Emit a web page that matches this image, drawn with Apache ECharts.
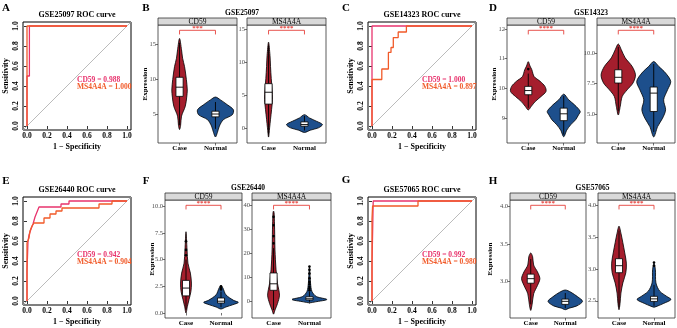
<!DOCTYPE html>
<html>
<head>
<meta charset="utf-8">
<script src="https://cdn.jsdelivr.net/npm/echarts@6/dist/echarts.min.js"></script>
<style>
  html, body { margin: 0; padding: 0; background: #fff; }
  #chart { width: 677px; height: 328px; }
</style>
</head>
<body>
<div id="chart"></div>
<script>
const groups = ["Case", "Normal"];
const genes = ["CD59", "MS4A4A"];

// ROC curves: [1 - specificity, sensitivity]
const rocA_CD59 = [[0, 0], [0, 0.5], [0.024, 0.5], [0.024, 1], [1, 1]];
const rocA_MS4A4A = [[0, 0], [0, 1], [1, 1]];
const aucA = ["0.988", "1.000"];

const rocC_CD59 = [[0, 0], [0, 1], [1, 1]];
const rocC_MS4A4A = [[0, 0], [0, 0.465], [0.098, 0.465], [0.098, 0.57], [0.164, 0.57], [0.164, 0.736],
  [0.19, 0.736], [0.19, 0.785], [0.213, 0.785], [0.213, 0.884], [0.262, 0.884], [0.262, 0.94],
  [0.344, 0.94], [0.344, 1], [1, 1]];
const aucC = ["1.000", "0.897"];

const rocE_CD59 = [[0, 0], [0, 0.3], [0.01, 0.3], [0.01, 0.6], [0.02, 0.6], [0.02, 0.66], [0.04, 0.66],
  [0.04, 0.72], [0.06, 0.72], [0.06, 0.77], [0.08, 0.77], [0.08, 0.84], [0.1, 0.84], [0.1, 0.89],
  [0.12, 0.89], [0.12, 0.94], [0.34, 0.94], [0.34, 0.97], [0.42, 0.97], [0.42, 1], [1, 1]];
const rocE_MS4A4A = [[0, 0], [0, 0.58], [0.02, 0.58], [0.02, 0.63], [0.03, 0.63], [0.03, 0.7], [0.05, 0.7],
  [0.05, 0.75], [0.07, 0.75], [0.07, 0.78], [0.17, 0.78], [0.17, 0.83], [0.23, 0.83], [0.23, 0.87],
  [0.29, 0.87], [0.29, 0.9], [0.35, 0.9], [0.35, 0.93], [0.72, 0.93], [0.72, 0.97], [0.85, 0.97],
  [0.85, 1], [1, 1]];
const aucE = ["0.942", "0.904"];

const rocG_CD59 = [[0, 0], [0, 0.36], [0.012, 0.36], [0.012, 1], [1, 1]];
const rocG_MS4A4A = [[0, 0], [0, 0.82], [0.006, 0.82], [0.006, 0.95], [0.46, 0.95], [0.46, 1], [1, 1]];
const aucG = ["0.992", "0.980"];

const rocTicks = [0, 0.2, 0.4, 0.6, 0.8, 1.0];

// violin outlines: [expression, relative half width], bottom to top
const vB_CD59_case = [[2.9, 0], [3.5, 0.06], [4.8, 0.11], [6.2, 0.32], [7.5, 0.4], [8.5, 0.43], [10, 0.38], [11.8, 0.28], [13, 0.17], [14.2, 0.11], [15.8, 0]];
const vB_CD59_normal = [[1.85, 0], [2.5, 0.11], [3.4, 0.22], [4.3, 0.44], [5.0, 0.94], [5.7, 1.0], [6.4, 0.67], [7.1, 0.28], [7.5, 0]];
const vB_MS4A4A_case = [[-1.4, 0], [0, 0.06], [1.3, 0.11], [2.8, 0.17], [4.3, 0.22], [5.8, 0.2], [7.5, 0.15], [9.3, 0.11], [11, 0.08], [13, 0]];
const vB_MS4A4A_normal = [[-0.7, 0], [-0.35, 0.33], [0, 0.78], [0.5, 1.0], [1.0, 0.67], [1.5, 0.28], [2.0, 0]];

const vD_CD59_case = [[9.28, 0], [9.4, 0.17], [9.56, 0.39], [9.73, 0.72], [9.9, 1.0], [10.07, 0.94], [10.24, 0.67], [10.4, 0.33], [10.63, 0.2], [10.75, 0.1], [10.9, 0]];
const vD_CD59_normal = [[8.38, 0], [8.6, 0.17], [8.78, 0.39], [8.95, 0.67], [9.11, 0.83], [9.23, 0.93], [9.45, 0.61], [9.62, 0.28], [9.81, 0]];
const vD_MS4A4A_case = [[4.9, 0], [5.6, 0.11], [6.42, 0.22], [6.97, 0.5], [7.53, 0.83], [8.2, 0.97], [8.9, 0.78], [9.6, 0.39], [10.27, 0.17], [10.74, 0]];
const vD_MS4A4A_normal = [[3.1, 0], [3.95, 0.22], [4.64, 0.5], [5.33, 0.67], [6.15, 0.56], [6.97, 0.78], [7.66, 0.96], [8.35, 0.67], [8.9, 0.28], [9.3, 0]];

const vF_CD59_case = [[0, 0], [0.62, 0.08], [1.24, 0.17], [2.0, 0.28], [2.8, 0.31], [3.73, 0.25], [4.66, 0.11], [5.9, 0.06], [7.6, 0]];
const vF_CD59_normal = [[0.37, 0], [0.56, 0.28], [0.77, 0.67], [0.99, 0.99], [1.18, 0.72], [1.7, 0.28], [2.33, 0.11], [2.55, 0]];
const vF_MS4A4A_case = [[-5.4, 0], [-3.7, 0.08], [-1, 0.22], [2.5, 0.33], [7.4, 0.22], [13, 0.14], [21.3, 0.08], [29.6, 0.06], [36.7, 0.03], [37.4, 0]];
const vF_MS4A4A_normal = [[-0.7, 0], [-0.3, 0.33], [0.7, 0.97], [1.9, 0.39], [4, 0.14], [7.5, 0.06], [14.4, 0]];

const vH_CD59_case = [[2.62, 0], [2.7, 0.08], [2.84, 0.17], [2.95, 0.39], [3.04, 0.53], [3.13, 0.39], [3.22, 0.17], [3.33, 0.11], [3.38, 0]];
const vH_CD59_normal = [[2.63, 0], [2.65, 0.22], [2.68, 0.67], [2.74, 1.0], [2.8, 0.72], [2.86, 0.33], [2.89, 0]];
const vH_MS4A4A_case = [[2.36, 0], [2.46, 0.06], [2.62, 0.11], [2.78, 0.22], [2.94, 0.39], [3.09, 0.42], [3.25, 0.33], [3.41, 0.22], [3.56, 0.11], [3.67, 0]];
const vH_MS4A4A_normal = [[2.4, 0], [2.42, 0.22], [2.46, 0.56], [2.52, 0.97], [2.57, 0.72], [2.65, 0.33], [2.78, 0.11], [2.99, 0.08], [3.09, 0]];

// boxplots: [lower whisker, q1, median, q3, upper whisker] for Case, Normal
const boxB_CD59 = [[3.5, 7.6, 8.9, 10.3, 15.2], [3.0, 4.7, 5.1, 5.5, 6.8]];
const boxB_MS4A4A = [[-1.0, 3.6, 5.4, 6.7, 12.5], [-0.4, 0.25, 0.5, 0.9, 1.8]];
const boxD_CD59 = [[9.35, 9.79, 9.93, 10.07, 10.5], [8.45, 8.92, 9.15, 9.34, 9.75]];
const boxD_MS4A4A = [[5.2, 7.53, 8.0, 8.62, 10.5], [3.5, 5.19, 6.7, 7.2, 9.1]];
const boxF_CD59 = [[0.3, 1.6, 2.33, 3.05, 5.0], [0.55, 0.93, 1.1, 1.4, 2.0]];
const boxF_MS4A4A = [[-3.7, 4.5, 7.2, 11.7, 22], [-0.3, 0.5, 1.0, 1.8, 4.0]];
const boxH_CD59 = [[2.7, 2.98, 3.04, 3.1, 3.3], [2.65, 2.7, 2.74, 2.77, 2.85]];
const boxH_MS4A4A = [[2.4, 2.94, 3.05, 3.16, 3.6], [2.42, 2.49, 2.53, 2.57, 2.75]];

// outlying points for Case, Normal
const outB_CD59 = [[], []];
const outB_MS4A4A = [[], []];
const outD_CD59 = [[10.65], []];
const outD_MS4A4A = [[], []];
const outF_CD59 = [[5.4, 5.9, 6.7], [2.2, 2.35, 2.5]];
const outF_MS4A4A = [[24, 27, 31.5, 35], [4.5, 5.2, 6, 7, 8, 9.5, 11.5, 13, 14.4]];
const outH_CD59 = [[], []];
const outH_MS4A4A = [[], [3.05, 3.1]];

// y tick labels of each facet
const ticksB_CD59 = [5, 10, 15];
const ticksB_MS4A4A = [0, 5, 10, 15];
const ticksD_CD59 = [9, 10, 11, 12];
const ticksD_MS4A4A = [5, 7.5, 10];
const ticksF_CD59 = [0, 2.5, 5, 7.5, 10];
const ticksF_MS4A4A = [0, 10, 20, 30, 40];
const ticksH_CD59 = [3, 3.5, 4];
const ticksH_MS4A4A = [2.5, 3, 3.5, 4];

const stars = ["***", "****", "****", "****", "****", "****", "****", "****"];

const SERIF = '"Liberation Serif", "DejaVu Serif", serif';
const CD59_COL = "#E8336D";
const MS_COL = "#F15A29";
const GROUP_COL = ["#A51E2D", "#1D4F8C"];
const SIG_COL = "#E5413B";

const rocPanels = [
  { letter: "A", lx: 6, ly: 8, title: "GSE25097 ROC curve", grid: { left: 23, top: 22, width: 108, height: 108 }, curves: [rocA_CD59, rocA_MS4A4A], auc: aucA },
  { letter: "C", lx: 346, ly: 8, title: "GSE14323 ROC curve", grid: { left: 368, top: 22, width: 108, height: 108 }, curves: [rocC_CD59, rocC_MS4A4A], auc: aucC },
  { letter: "E", lx: 6, ly: 181, title: "GSE26440 ROC curve", grid: { left: 23, top: 197, width: 108, height: 108 }, curves: [rocE_CD59, rocE_MS4A4A], auc: aucE },
  { letter: "G", lx: 346, ly: 180, title: "GSE57065 ROC curve", grid: { left: 368, top: 197, width: 108, height: 108 }, curves: [rocG_CD59, rocG_MS4A4A], auc: aucG }
];

const violinPanels = [
  { letter: "B", lx: 146, ly: 8, title: "GSE25097", yLabelX: 145,
    facets: [
      { grid: { left: 158, top: 25, width: 79, height: 118 }, range: [1.0, 17.7], ticks: ticksB_CD59, dec: 0, violins: [vB_CD59_case, vB_CD59_normal], boxes: boxB_CD59, out: outB_CD59 },
      { grid: { left: 247, top: 25, width: 79, height: 118 }, range: [-2.3, 15.6], ticks: ticksB_MS4A4A, dec: 0, violins: [vB_MS4A4A_case, vB_MS4A4A_normal], boxes: boxB_MS4A4A, out: outB_MS4A4A }
    ] },
  { letter: "D", lx: 493, ly: 8, title: "GSE14323", yLabelX: 494,
    facets: [
      { grid: { left: 507, top: 25, width: 78, height: 118 }, range: [8.17, 12.13], ticks: ticksD_CD59, dec: 0, violins: [vD_CD59_case, vD_CD59_normal], boxes: boxD_CD59, out: outD_CD59 },
      { grid: { left: 597, top: 25, width: 78, height: 118 }, range: [2.6, 12.3], ticks: ticksD_MS4A4A, dec: 1, violins: [vD_MS4A4A_case, vD_MS4A4A_normal], boxes: boxD_MS4A4A, out: outD_MS4A4A }
    ] },
  { letter: "F", lx: 146, ly: 181, title: "GSE26440", yLabelX: 152,
    facets: [
      { grid: { left: 165, top: 200, width: 77, height: 118 }, range: [-0.47, 10.57], ticks: ticksF_CD59, dec: 1, violins: [vF_CD59_case, vF_CD59_normal], boxes: boxF_CD59, out: outF_CD59 },
      { grid: { left: 252, top: 200, width: 79, height: 118 }, range: [-7, 42], ticks: ticksF_MS4A4A, dec: 0, violins: [vF_MS4A4A_case, vF_MS4A4A_normal], boxes: boxF_MS4A4A, out: outF_MS4A4A }
    ] },
  { letter: "H", lx: 493, ly: 181, title: "GSE57065", yLabelX: 490,
    facets: [
      { grid: { left: 510, top: 200, width: 76, height: 118 }, range: [2.52, 4.08], ticks: ticksH_CD59, dec: 1, violins: [vH_CD59_case, vH_CD59_normal], boxes: boxH_CD59, out: outH_CD59 },
      { grid: { left: 598, top: 200, width: 77, height: 118 }, range: [2.23, 4.08], ticks: ticksH_MS4A4A, dec: 1, violins: [vH_MS4A4A_case, vH_MS4A4A_normal], boxes: boxH_MS4A4A, out: outH_MS4A4A }
    ] }
];

const grids = [], xAxes = [], yAxes = [], series = [], graphics = [];

function text(str, x, y, size, opts = {}) {
  return {
    type: "text", x, y, rotation: opts.rot || 0, silent: true,
    style: {
      text: str, fill: opts.color || "#000",
      font: (opts.bold === false ? "" : "bold ") + size + "px " + SERIF,
      align: opts.align || "center", textAlign: opts.align || "center",
      verticalAlign: "middle", textVerticalAlign: "middle"
    }
  };
}

// ROC panels
rocPanels.forEach((p) => {
  const gi = grids.length;
  const g = p.grid;
  grids.push(Object.assign({ show: true, borderColor: "#000", borderWidth: 1, backgroundColor: "transparent" }, g));
  const labelStyle = { color: "#000", fontFamily: SERIF, fontWeight: "bold", fontSize: 7.5 };
  xAxes.push({
    gridIndex: gi, type: "value", min: -0.04, max: 1.04,
    axisLine: { show: false }, splitLine: { show: false },
    axisTick: { show: true, length: 3, customValues: rocTicks, lineStyle: { color: "#000", width: 0.8 } },
    axisLabel: Object.assign({ customValues: rocTicks, margin: 2, formatter: (v) => v.toFixed(1) }, labelStyle)
  });
  yAxes.push({
    gridIndex: gi, type: "value", min: -0.04, max: 1.04,
    axisLine: { show: false }, splitLine: { show: false },
    axisTick: { show: true, length: 3, customValues: rocTicks, lineStyle: { color: "#000", width: 0.8 } },
    axisLabel: Object.assign({ customValues: rocTicks, margin: 3, rotate: 90, formatter: (v) => v.toFixed(1) }, labelStyle)
  });
  series.push({
    type: "line", xAxisIndex: gi, yAxisIndex: gi, data: [[-0.04, -0.04], [1.04, 1.04]],
    symbol: "none", silent: true, lineStyle: { color: "#AAAAAA", width: 0.8 }
  });
  [CD59_COL, MS_COL].forEach((col, k) => {
    series.push({
      type: "line", xAxisIndex: gi, yAxisIndex: gi, data: p.curves[k],
      symbol: "none", silent: true, lineStyle: { color: col, width: 1.3 }
    });
  });
  series.push({
    type: "custom", xAxisIndex: gi, yAxisIndex: gi, silent: true,
    data: [[0.5, 0.46], [0.5, 0.39]],
    renderItem: (params, api) => {
      const pt = api.coord([api.value(0), api.value(1)]);
      const k = params.dataIndex;
      return {
        type: "text", x: pt[0], y: pt[1],
        style: {
          text: genes[k] + " = " + p.auc[k], fill: k === 0 ? CD59_COL : MS_COL,
          font: "bold 7.5px " + SERIF, align: "left", textAlign: "left",
          verticalAlign: "middle", textVerticalAlign: "middle"
        }
      };
    }
  });
  graphics.push(text(p.letter, p.lx, p.ly, 11));
  graphics.push(text(p.title, g.left + g.width / 2, g.top - 7, 8));
  graphics.push(text("Sensitivity", g.left - 17, g.top + g.height / 2, 8, { rot: Math.PI / 2 }));
  graphics.push(text("1 \u2212 Specificity", g.left + g.width / 2, g.top + g.height + 17, 8));
});

function violinRenderer(f) {
  return (params, api) => {
    const i = params.dataIndex;
    const c = i + 1;
    const prof = f.violins[i];
    const right = prof.map((q) => api.coord([c + q[1] * 0.5, q[0]]));
    const left = prof.slice(1, -1).reverse().map((q) => api.coord([c - q[1] * 0.5, q[0]]));
    const b = f.boxes[i];
    const lo = api.coord([c, b[0]]), hi = api.coord([c, b[4]]);
    const tl = api.coord([c - 0.1, b[3]]), br = api.coord([c + 0.1, b[1]]);
    const ml = api.coord([c - 0.1, b[2]]), mr = api.coord([c + 0.1, b[2]]);
    const children = [
      { type: "polygon", shape: { points: right.concat(left), smooth: 0.3 }, style: { fill: GROUP_COL[i], stroke: "#000", lineWidth: 0.8 } },
      { type: "line", shape: { x1: lo[0], y1: lo[1], x2: hi[0], y2: hi[1] }, style: { stroke: "#000", lineWidth: 0.9 } },
      { type: "rect", shape: { x: tl[0], y: tl[1], width: br[0] - tl[0], height: br[1] - tl[1] }, style: { fill: "#fff", stroke: "#000", lineWidth: 0.8 } },
      { type: "line", shape: { x1: ml[0], y1: ml[1], x2: mr[0], y2: mr[1] }, style: { stroke: "#000", lineWidth: 0.9 } }
    ];
    f.out[i].forEach((v) => {
      const pt = api.coord([c, v]);
      children.push({ type: "circle", shape: { cx: pt[0], cy: pt[1], r: 1.3 }, style: { fill: "#000" } });
    });
    return { type: "group", children };
  };
}

let starIdx = 0;
violinPanels.forEach((p) => {
  p.facets.forEach((f, fi) => {
    const gi = grids.length;
    const g = f.grid;
    grids.push(Object.assign({ show: true, borderColor: "#333", borderWidth: 0.8, backgroundColor: "transparent" }, g));
    xAxes.push({
      gridIndex: gi, type: "value", min: 0.4, max: 2.6,
      axisLine: { show: false }, splitLine: { show: false },
      axisTick: { show: true, length: 2.5, customValues: [1, 2], lineStyle: { color: "#333", width: 0.7 } },
      axisLabel: { customValues: [1, 2], margin: 2, formatter: (v) => groups[Math.round(v) - 1], color: "#000", fontFamily: SERIF, fontWeight: "bold", fontSize: 7 }
    });
    yAxes.push({
      gridIndex: gi, type: "value", min: f.range[0], max: f.range[1],
      axisLine: { show: false }, splitLine: { show: false },
      axisTick: { show: true, length: 2.5, customValues: f.ticks, lineStyle: { color: "#333", width: 0.7 } },
      axisLabel: { customValues: f.ticks, margin: 2, formatter: (v) => v.toFixed(f.dec), color: "#4D4D4D", fontFamily: SERIF, fontSize: 6.5 }
    });
    series.push({
      type: "custom", xAxisIndex: gi, yAxisIndex: gi, silent: true, clip: true,
      data: [[1], [2]], renderItem: violinRenderer(f)
    });
    const st = stars[starIdx++];
    series.push({
      type: "custom", xAxisIndex: gi, yAxisIndex: gi, silent: true,
      data: [[1.5]],
      renderItem: (params, api) => {
        const span = f.range[1] - f.range[0];
        const yb = f.range[1] - 0.045 * span;
        const yt = yb - 0.035 * span;
        const a = api.coord([1, yt]), b = api.coord([1, yb]), c = api.coord([2, yb]), d = api.coord([2, yt]);
        const m = api.coord([1.5, yb]);
        return {
          type: "group", children: [
            { type: "polyline", shape: { points: [a, b, c, d] }, style: { stroke: SIG_COL, lineWidth: 0.9, fill: null } },
            { type: "text", x: m[0], y: m[1] + 1.5, style: { text: st, fill: SIG_COL, font: "bold 7px " + SERIF, align: "center", textAlign: "center", verticalAlign: "bottom", textVerticalAlign: "bottom" } }
          ]
        };
      }
    });
    graphics.push({ type: "rect", silent: true, shape: { x: g.left, y: g.top - 7, width: g.width, height: 7 }, style: { fill: "#D9D9D9", stroke: "#333", lineWidth: 0.8 } });
    graphics.push(text(genes[fi], g.left + g.width / 2, g.top - 3.3, 7.5, { bold: false }));
  });
  const f0 = p.facets[0].grid, f1 = p.facets[1].grid;
  graphics.push(text(p.letter, p.lx, p.ly, 11));
  graphics.push(text(p.title, (f0.left + f1.left + f1.width) / 2, f0.top - 12, 7.5));
  graphics.push(text("Expression", p.yLabelX, f0.top + f0.height / 2, 7, { rot: Math.PI / 2 }));
});

const chart = echarts.init(document.getElementById("chart"));
chart.setOption({
  animation: false,
  backgroundColor: "#fff",
  grid: grids,
  xAxis: xAxes,
  yAxis: yAxes,
  series: series,
  graphic: { elements: graphics }
});
</script>
</body>
</html>
